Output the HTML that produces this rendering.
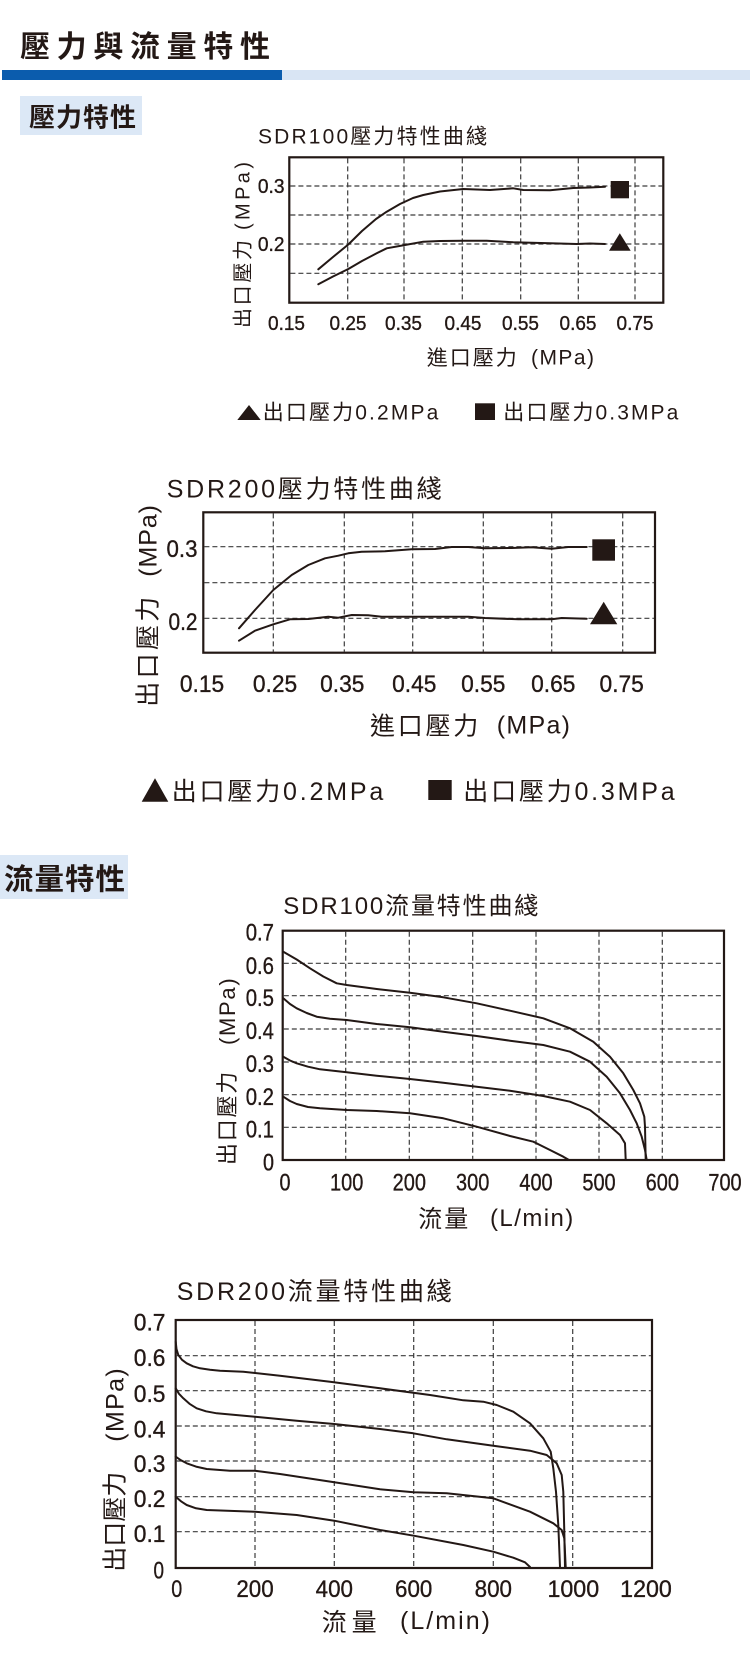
<!DOCTYPE html>
<html><head><meta charset="utf-8">
<style>
html,body{margin:0;padding:0;background:#fff;}
svg{display:block;}
text{font-family:"Liberation Sans","Noto Sans CJK TC",sans-serif;fill:#231815;}
.b{font-weight:bold;font-family:"Noto Sans CJK TC","Liberation Sans",sans-serif;}
.n{stroke:#231815;stroke-width:0.35;}
.g{stroke:#3c3c3c;stroke-width:1.2;stroke-dasharray:5 3;fill:none;}
.c{fill:none;stroke:#231815;stroke-width:2;stroke-linejoin:round;stroke-linecap:round;}
.f{fill:none;stroke:#231815;stroke-width:2.2;}
</style></head><body>
<svg width="750" height="1679" viewBox="0 0 750 1679" xmlns="http://www.w3.org/2000/svg">
<!-- Header -->
<text class="b" x="20" y="57" font-size="30" textLength="250">壓力與流量特性</text>
<rect x="2" y="70" width="280" height="10" fill="#0b5cad"/>
<rect x="282" y="70" width="468" height="10" fill="#d9e5f4"/>
<rect x="20" y="96" width="122" height="39" fill="#dce8f6"/>
<text class="b" x="29" y="126.5" font-size="26" textLength="107">壓力特性</text>

<!-- Chart 1 -->
<text x="258" y="143.3" font-size="21" textLength="229">SDR100壓力特性曲綫</text>
<g class="g">
<line x1="347.7" y1="158.4" x2="347.7" y2="301.6"/><line x1="404" y1="158.4" x2="404" y2="301.6"/>
<line x1="462.3" y1="158.4" x2="462.3" y2="301.6"/><line x1="520.7" y1="158.4" x2="520.7" y2="301.6"/>
<line x1="578.3" y1="158.4" x2="578.3" y2="301.6"/><line x1="635" y1="158.4" x2="635" y2="301.6"/>
<line x1="290.4" y1="186" x2="662.2" y2="186"/><line x1="290.4" y1="215" x2="662.2" y2="215"/>
<line x1="290.4" y1="244" x2="662.2" y2="244"/><line x1="290.4" y1="273.3" x2="662.2" y2="273.3"/>
</g>
<rect class="f" x="289.3" y="157.3" width="374" height="145.4"/>
<g class="n" font-size="20" lengthAdjust="spacingAndGlyphs">
<text x="284.5" y="193" text-anchor="end" textLength="26.6" lengthAdjust="spacingAndGlyphs">0.3</text>
<text x="284.5" y="251" text-anchor="end" textLength="26.6" lengthAdjust="spacingAndGlyphs">0.2</text>
</g>
<g class="n" font-size="20" text-anchor="middle">
<text x="286.5" y="330" textLength="37" lengthAdjust="spacingAndGlyphs">0.15</text><text x="348" y="330" textLength="37" lengthAdjust="spacingAndGlyphs">0.25</text>
<text x="403.5" y="330" textLength="37" lengthAdjust="spacingAndGlyphs">0.35</text><text x="463" y="330" textLength="37" lengthAdjust="spacingAndGlyphs">0.45</text>
<text x="520.5" y="330" textLength="37" lengthAdjust="spacingAndGlyphs">0.55</text><text x="578" y="330" textLength="37" lengthAdjust="spacingAndGlyphs">0.65</text>
<text x="635" y="330" textLength="37" lengthAdjust="spacingAndGlyphs">0.75</text>
</g>
<text x="426.7" y="365" font-size="21" textLength="90">進口壓力</text>
<text x="531" y="364.5" font-size="21" textLength="63">(MPa)</text>
<g transform="translate(249.5,328) rotate(-90)"><text x="0" y="0" font-size="20" textLength="88">出口壓力</text><text x="98" y="0" font-size="20" textLength="68">(MPa)</text></g>
<polyline class="c" points="318.3,269.3 333,257 348.3,244.5 362,231 376,219 386.7,211.7 400,204 413,198 423.3,195 440,191.5 463.3,189 490,190 513.3,188.3 523.3,190 550,190.3 573.3,188 590,187.5 605,186.7"/>
<polyline class="c" points="318.3,284.3 333,276.5 348.3,269 362,261 376.7,253.3 386.7,248.3 405,245 423.3,241.7 440,241 463.3,240.7 486.7,240.7 513.3,242.3 550,243.3 576.7,244 590,243.5 605,244"/>
<rect x="610.7" y="181" width="18.3" height="17.3" fill="#231815"/>
<polygon points="609,250.7 630.7,250.7 619.8,233.3" fill="#231815"/>
<polygon points="237.3,420 260.7,420 249,405" fill="#231815"/>
<text x="262.7" y="419.5" font-size="21" textLength="175.6">出口壓力0.2MPa</text>
<rect x="475" y="403.3" width="20" height="16.7" fill="#231815"/>
<text x="503.3" y="419.5" font-size="21" textLength="175">出口壓力0.3MPa</text>

<!-- Chart 2 -->
<text x="166.7" y="497.3" font-size="25" textLength="275">SDR200壓力特性曲綫</text>
<g class="g">
<line x1="273.3" y1="513.4" x2="273.3" y2="651.6"/><line x1="344.3" y1="513.4" x2="344.3" y2="651.6"/>
<line x1="412.7" y1="513.4" x2="412.7" y2="651.6"/><line x1="483.3" y1="513.4" x2="483.3" y2="651.6"/>
<line x1="551.7" y1="513.4" x2="551.7" y2="651.6"/><line x1="622.7" y1="513.4" x2="622.7" y2="651.6"/>
<line x1="204.4" y1="546.7" x2="653.9" y2="546.7"/><line x1="204.4" y1="582.7" x2="653.9" y2="582.7"/>
<line x1="204.4" y1="618.3" x2="653.9" y2="618.3"/>
</g>
<rect class="f" x="203.3" y="512.3" width="451.7" height="140.4"/>
<g class="n" font-size="24">
<text x="197.5" y="556.8" text-anchor="end" textLength="31" lengthAdjust="spacingAndGlyphs">0.3</text>
<text x="197.5" y="630.2" text-anchor="end" textLength="29" lengthAdjust="spacingAndGlyphs">0.2</text>
</g>
<g class="n" font-size="24" text-anchor="middle">
<text x="202" y="691.8" textLength="44.3" lengthAdjust="spacingAndGlyphs">0.15</text><text x="275" y="691.8" textLength="44.3" lengthAdjust="spacingAndGlyphs">0.25</text>
<text x="342.3" y="691.8" textLength="44.3" lengthAdjust="spacingAndGlyphs">0.35</text><text x="414.3" y="691.8" textLength="44.3" lengthAdjust="spacingAndGlyphs">0.45</text>
<text x="483.3" y="691.8" textLength="44.3" lengthAdjust="spacingAndGlyphs">0.55</text><text x="553.3" y="691.8" textLength="44.3" lengthAdjust="spacingAndGlyphs">0.65</text>
<text x="621.7" y="691.8" textLength="44.3" lengthAdjust="spacingAndGlyphs">0.75</text>
</g>
<text x="370" y="734.5" font-size="25" textLength="108.3">進口壓力</text>
<text x="496.7" y="733.5" font-size="25" textLength="73.3">(MPa)</text>
<g transform="translate(156.5,706.7) rotate(-90)"><text x="0" y="0" font-size="25" textLength="110">出口壓力</text><text x="130" y="0" font-size="25" textLength="71.7">(MPa)</text></g>
<polyline class="c" points="239,628.3 255,610 273.3,590 291.7,575 308.3,565 325,558.3 338.3,555.7 348.3,553.3 361.7,551.7 385,551.3 411.7,549.3 435,549 451.7,547 468.3,547 485,548.3 511.7,548 531.7,547.3 551.7,548.7 568.3,547 586.7,547"/>
<polyline class="c" points="239,640.7 255,630.7 273.3,624.3 290,619.3 308.3,619 328.3,616.7 338.3,617.7 351.7,615 368.3,615.3 381.7,616.7 411.7,616.7 468.3,616.7 485,618 518.3,619.3 551.7,619.3 561.7,618 586.7,618.7"/>
<rect x="592.3" y="539.3" width="22.7" height="21.4" fill="#231815"/>
<polygon points="590,624.3 617.3,624.3 603.7,601.7" fill="#231815"/>
<polygon points="141.7,801.7 168.3,801.7 155,778.3" fill="#231815"/>
<text x="171.7" y="800" font-size="25" textLength="211.6">出口壓力0.2MPa</text>
<rect x="428.3" y="780" width="23.4" height="20" fill="#231815"/>
<text x="463.3" y="800" font-size="25" textLength="211.3">出口壓力0.3MPa</text>

<!-- Section 2 -->
<rect x="0" y="855" width="128" height="44" fill="#dce8f6"/>
<text class="b" x="4" y="889.5" font-size="29.5" textLength="121">流量特性</text>

<!-- Chart 3 -->
<text x="283.3" y="914" font-size="24" textLength="255">SDR100流量特性曲綫</text>
<g class="g">
<line x1="345.7" y1="931.8" x2="345.7" y2="1158.9"/><line x1="409.3" y1="931.8" x2="409.3" y2="1158.9"/>
<line x1="472.7" y1="931.8" x2="472.7" y2="1158.9"/><line x1="536" y1="931.8" x2="536" y2="1158.9"/>
<line x1="599" y1="931.8" x2="599" y2="1158.9"/><line x1="662.3" y1="931.8" x2="662.3" y2="1158.9"/>
<line x1="283.8" y1="963.3" x2="722.9" y2="963.3"/><line x1="283.8" y1="995.7" x2="722.9" y2="995.7"/>
<line x1="283.8" y1="1029" x2="722.9" y2="1029"/><line x1="283.8" y1="1062" x2="722.9" y2="1062"/>
<line x1="283.8" y1="1094.7" x2="722.9" y2="1094.7"/><line x1="283.8" y1="1127.3" x2="722.9" y2="1127.3"/>
</g>
<rect class="f" x="282.7" y="930.7" width="441.3" height="229.3"/>
<g class="n" font-size="24" text-anchor="end">
<text x="274" y="940.3" textLength="28.3" lengthAdjust="spacingAndGlyphs">0.7</text>
<text x="274" y="973.8" textLength="28.3" lengthAdjust="spacingAndGlyphs">0.6</text>
<text x="274" y="1006.1" textLength="28.3" lengthAdjust="spacingAndGlyphs">0.5</text>
<text x="274" y="1039.1" textLength="28.3" lengthAdjust="spacingAndGlyphs">0.4</text>
<text x="274" y="1072.1" textLength="28.3" lengthAdjust="spacingAndGlyphs">0.3</text>
<text x="274" y="1104.8" textLength="28.3" lengthAdjust="spacingAndGlyphs">0.2</text>
<text x="274" y="1137.4" textLength="28.3" lengthAdjust="spacingAndGlyphs">0.1</text>
<text x="274" y="1170.3" textLength="11" lengthAdjust="spacingAndGlyphs">0</text>
</g>
<g class="n" font-size="24" text-anchor="middle">
<text x="285" y="1190.3" textLength="11" lengthAdjust="spacingAndGlyphs">0</text>
<text x="346.7" y="1190.3" textLength="33.3" lengthAdjust="spacingAndGlyphs">100</text><text x="409.3" y="1190.3" textLength="33.3" lengthAdjust="spacingAndGlyphs">200</text>
<text x="472.7" y="1190.3" textLength="33.3" lengthAdjust="spacingAndGlyphs">300</text><text x="536" y="1190.3" textLength="33.3" lengthAdjust="spacingAndGlyphs">400</text>
<text x="599" y="1190.3" textLength="33.3" lengthAdjust="spacingAndGlyphs">500</text><text x="662.3" y="1190.3" textLength="33.3" lengthAdjust="spacingAndGlyphs">600</text>
<text x="725" y="1190.3" textLength="33.3" lengthAdjust="spacingAndGlyphs">700</text>
</g>
<text x="418.3" y="1227" font-size="24" textLength="50">流量</text>
<text x="490" y="1226" font-size="24" textLength="83.3">(L/min)</text>
<g transform="translate(235,1165) rotate(-90)"><text x="0" y="0" font-size="22" textLength="93.3">出口壓力</text><text x="120" y="0" font-size="22" textLength="66.7">(MPa)</text></g>
<polyline class="c" points="283.3,951.7 296.7,959.5 310,968.3 323.3,976.5 336.7,983.3 346.7,985 376.7,989 410,992.7 443.3,997.3 476.7,1003.3 510,1010.7 543.3,1018.3 570,1028.3 593.3,1041.7 610,1056.7 623.3,1073.3 633.3,1090 640,1103.3 644.3,1116.7 645,1126.7 645.7,1160"/>
<polyline class="c" points="283.3,998.3 290,1004 296.7,1008.3 306.7,1013 316.7,1016.7 330,1018.7 346.7,1020 376.7,1024 410,1027.3 443.3,1031.7 476.7,1036 510,1040.7 543.3,1045 570,1051.7 590,1061.7 606.7,1076.7 620,1093.3 630,1110 636.7,1123.3 641.7,1136.7 645,1150 646.7,1160"/>
<polyline class="c" points="283.3,1056.7 290,1060.5 296.7,1063.3 308,1066.7 320,1069.3 346.7,1072.3 376.7,1075.7 410,1079 443.3,1082.7 476.7,1086.7 510,1090.7 543.3,1096 570,1101.7 590,1110 606.7,1123.3 620,1135 625,1143.3 625.7,1160"/>
<polyline class="c" points="283.3,1096.7 290,1101 296.7,1104 308,1107 320,1108.3 346.7,1110 376.7,1111 410,1113.3 443.3,1118.3 476.7,1126.7 510,1136 533.3,1141.7 550,1150 563.3,1156.7 569,1160"/>

<!-- Chart 4 -->
<text x="176.7" y="1300" font-size="25" textLength="275">SDR200流量特性曲綫</text>
<g class="g">
<line x1="255" y1="1321" x2="255" y2="1567"/><line x1="334.3" y1="1321" x2="334.3" y2="1567"/>
<line x1="413.7" y1="1321" x2="413.7" y2="1567"/><line x1="493.3" y1="1321" x2="493.3" y2="1567"/>
<line x1="572.7" y1="1321" x2="572.7" y2="1567"/>
<line x1="176.8" y1="1355.7" x2="650.9" y2="1355.7"/><line x1="176.8" y1="1390.7" x2="650.9" y2="1390.7"/>
<line x1="176.8" y1="1426" x2="650.9" y2="1426"/><line x1="176.8" y1="1461" x2="650.9" y2="1461"/>
<line x1="176.8" y1="1496.7" x2="650.9" y2="1496.7"/><line x1="176.8" y1="1531.7" x2="650.9" y2="1531.7"/>
</g>
<rect class="f" x="175.7" y="1320" width="476.3" height="248"/>
<g class="n" font-size="24" text-anchor="end">
<text x="165.5" y="1330.3" textLength="31.7" lengthAdjust="spacingAndGlyphs">0.7</text>
<text x="165.5" y="1365.9" textLength="31.7" lengthAdjust="spacingAndGlyphs">0.6</text>
<text x="165.5" y="1401.9" textLength="31.7" lengthAdjust="spacingAndGlyphs">0.5</text>
<text x="165.5" y="1437.6" textLength="31.7" lengthAdjust="spacingAndGlyphs">0.4</text>
<text x="165.5" y="1471.9" textLength="31.7" lengthAdjust="spacingAndGlyphs">0.3</text>
<text x="165.5" y="1506.9" textLength="31.7" lengthAdjust="spacingAndGlyphs">0.2</text>
<text x="165.5" y="1541.9" textLength="31.7" lengthAdjust="spacingAndGlyphs">0.1</text>
<text x="164" y="1578.6" textLength="10.5" lengthAdjust="spacingAndGlyphs">0</text>
</g>
<g class="n" font-size="24" text-anchor="middle">
<text x="176.7" y="1596.9" textLength="11" lengthAdjust="spacingAndGlyphs">0</text>
<text x="255" y="1596.9" textLength="37.3" lengthAdjust="spacingAndGlyphs">200</text><text x="334.3" y="1596.9" textLength="37.3" lengthAdjust="spacingAndGlyphs">400</text>
<text x="413.7" y="1596.9" textLength="37.3" lengthAdjust="spacingAndGlyphs">600</text><text x="493.3" y="1596.9" textLength="37.3" lengthAdjust="spacingAndGlyphs">800</text>
<text x="573.3" y="1596.9" textLength="51.7" lengthAdjust="spacingAndGlyphs">1000</text><text x="646" y="1596.9" textLength="51.7" lengthAdjust="spacingAndGlyphs">1200</text>
</g>
<text x="321.7" y="1631" font-size="25" textLength="55">流量</text>
<text x="400" y="1629" font-size="25" textLength="90">(L/min)</text>
<g transform="translate(123.3,1571.7) rotate(-90)"><text x="0" y="0" font-size="25" textLength="100">出口壓力</text><text x="130" y="0" font-size="25" textLength="73.4">(MPa)</text></g>
<polyline class="c" points="175.7,1341.7 176.5,1349 178.3,1355 182,1359.8 186.7,1363.3 193,1366.3 200,1368.3 210,1369.8 220,1370.7 243.3,1371.7 280,1375.7 330,1381.7 380,1388.3 430,1395 463.3,1400.3 483.3,1401.7 496.7,1405 513.3,1411.7 530,1423.3 543.3,1438.3 550.7,1451.7 553.3,1468.3 556,1491.7 558.3,1525 560,1567"/>
<polyline class="c" points="175.7,1388.3 179,1393.8 183.3,1398.3 189.5,1403.8 196.7,1408.3 206,1411.3 216.7,1413.3 255,1416.7 296.7,1420.7 334.3,1424 380,1429 413.3,1433.3 446.7,1439.3 493.3,1445.7 530,1450.7 546.7,1455 556.7,1463.3 561.7,1475 563.3,1491.7 564.3,1531.7 565,1567"/>
<polyline class="c" points="175.7,1456.7 181,1460.3 186.7,1463.3 196,1466.6 206.7,1469 230,1470.7 255,1470.7 280,1474 334.3,1482.3 380,1489.3 413.7,1492.3 446.7,1493.3 493.3,1498.3 530,1511.7 553.3,1523.3 561.7,1530 564.3,1538.3 565.7,1567"/>
<polyline class="c" points="175.7,1496.7 181,1501.3 186.7,1505 196,1508.3 206.7,1510 255,1511.7 296.7,1515 334.3,1520.7 380,1530 413.7,1535.7 463.3,1545 493.3,1551.7 513.3,1557.7 525,1562.3 530,1567"/>
</svg>
</body></html>
